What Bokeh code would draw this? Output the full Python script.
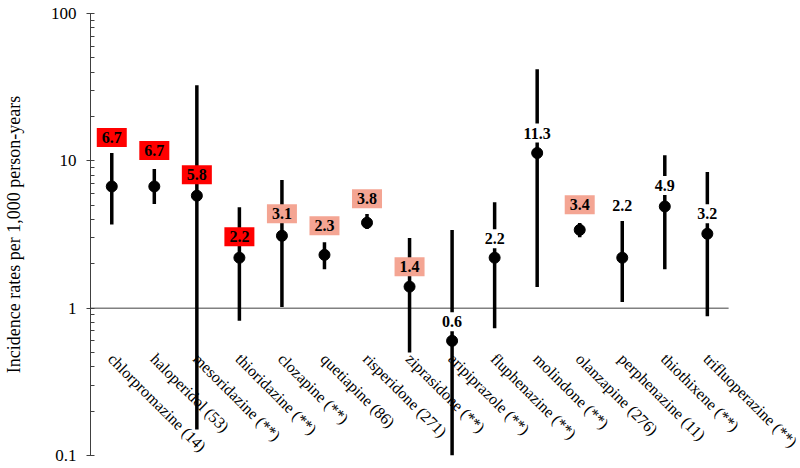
import math
from bokeh.plotting import figure
from bokeh.models import Range1d, FixedTicker, ColumnDataSource
from bokeh.core.properties import value
from bokeh.embed import file_html
from bokeh.resources import INLINE

# ---- data ----
drugs = ["chlorpromazine (14)", "haloperidol (53)", "mesoridazine (**)",
         "thioridazine (**)", "clozapine (**)", "quetiapine (86)",
         "risperidone (271)", "ziprasidone (**)", "aripiprazole (**)",
         "fluphenazine (**)", "molindone (**)", "olanzapine (276)",
         "perphenazine (11)", "thiothixene (**)", "trifluoperazine (**)"]
rates = [6.7, 6.7, 5.8, 2.2, 3.1, 2.3, 3.8, 1.4, 0.6, 2.2, 11.3, 3.4, 2.2, 4.9, 3.2]
lower = [3.7, 5.1, 0.15, 0.82, 1.02, 1.84, 3.44, 0.50, 0.10, 0.73, 1.39, 3.03, 1.10, 1.84, 0.88]
upper = [11.3, 8.8, 32.6, 4.85, 7.4, 2.8, 4.35, 2.99, 3.39, 5.24, 41.9, 3.78, 3.9, 10.9, 8.4]
risk = ["high", "high", "high", "high", "moderate", "moderate", "moderate",
        "moderate", "none", "none", "none", "moderate", "none", "none", "none"]
y_ticks = [0.1, 1, 10, 100]
y_tick_labels = ["0.1", "1", "10", "100"]

# ---- styling ----
risk_colors = {"high": "#FF0000", "moderate": "#F4A593", "none": "#FFFFFF"}
label_offsets = [-49, -36, -21, -21, -22, -29, -24, -20, -19, -19, -20, -25, -52, -21, -20]
SERIF = "Liberation Serif"

n = len(drugs)
pos = list(range(n))
src = ColumnDataSource(dict(
    x=pos, drug=drugs, rate=rates, lower=lower, upper=upper,
    label=[f"{v:.1f}" for v in rates],
    bg=[risk_colors[r] for r in risk],
    yoff=label_offsets,
))

p = figure(width=800, height=468, output_backend="svg", toolbar_location=None,
           x_range=Range1d(-0.5, 16.19), y_axis_type="log",
           y_range=Range1d(0.1, 100), x_axis_location=None,
           min_border_left=90, min_border_right=0, min_border_top=13,
           min_border_bottom=13)
p.outline_line_color = None
p.xgrid.visible = False
p.ygrid.visible = False

minor = [m * 10 ** e for e in (-1, 0, 1) for m in range(2, 10)]
yax = p.yaxis[0]
yax.ticker = FixedTicker(ticks=y_ticks, minor_ticks=minor)
yax.major_label_overrides = dict(zip(y_ticks, y_tick_labels))
yax.axis_label = "Incidence rates per 1,000 person-years"
yax.axis_label_text_font = SERIF
yax.axis_label_text_font_style = "normal"
yax.axis_label_text_font_size = "18px"
yax.axis_label_text_color = "#000000"
yax.axis_label_standoff = 24
yax.major_label_text_font = SERIF
yax.major_label_text_font_size = "17px"
yax.major_label_text_color = "#000000"
yax.major_label_standoff = 10
yax.axis_line_color = "#404040"
yax.major_tick_line_color = "#404040"
yax.minor_tick_line_color = "#404040"
yax.major_tick_in = 4
yax.major_tick_out = 4
yax.minor_tick_in = 4
yax.minor_tick_out = 0

# reference line at 1, spanning the category band only
p.segment(x0=[pos[0] - 0.5], y0=[1], x1=[pos[-1] + 0.5], y1=[1],
          line_color="#808080", line_width=1.5)

# category labels hanging below the 1-line
p.text(x="x", y=1, text="drug", source=src, angle=-math.pi / 4,
       text_align="left", text_baseline="middle", x_offset=-1, y_offset=48,
       text_font=value(SERIF), text_font_size="16px", text_color="#000000")

# confidence intervals and points
p.segment(x0="x", y0="lower", x1="x", y1="upper", source=src,
          line_color="#000000", line_width=3.5)
p.scatter(x="x", y="rate", source=src, size=11, fill_color="#000000",
          line_color="#000000")

# value labels
p.text(x="x", y="rate", text="label", source=src, y_offset="yoff",
       text_align="center", text_baseline="middle",
       text_font=value(SERIF), text_font_style="bold", text_font_size="16px",
       text_color="#000000", background_fill_color="bg", padding=(5, 4))

open("out.html", "w").write(file_html(p, INLINE))
